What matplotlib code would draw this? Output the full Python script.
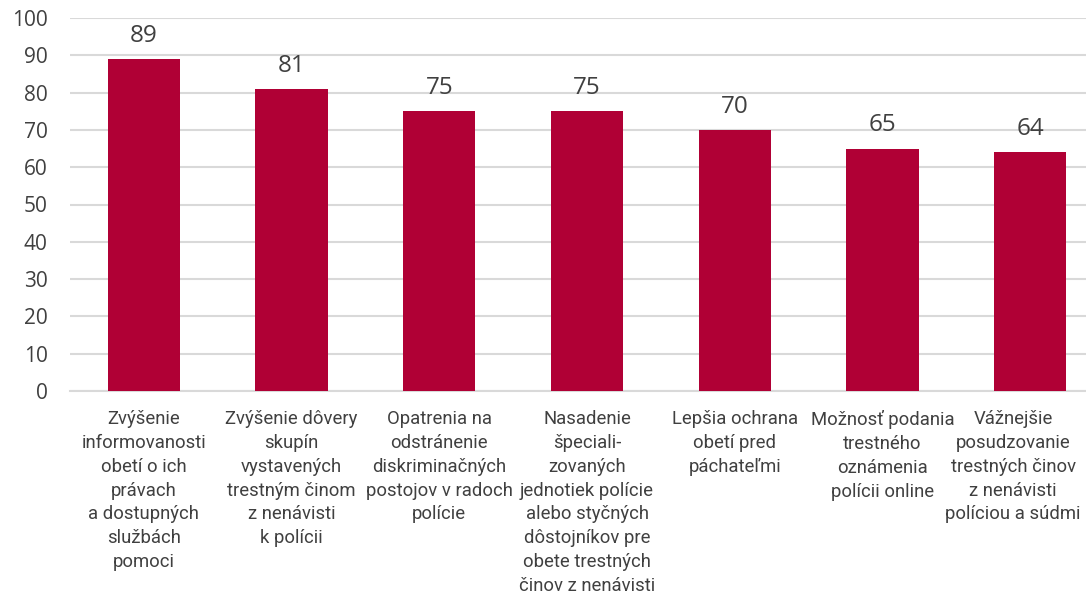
import matplotlib.pyplot as plt
import matplotlib.transforms as mtransforms

# data
categories = [
    'Zvýšenie\ninformovanosti\nobetí o ich\nprávach\na dostupných\nslužbách\npomoci',
    'Zvýšenie dôvery\nskupín\nvystavených\ntrestným činom\nz nenávisti\nk polícii',
    'Opatrenia na\nodstránenie\ndiskriminačných\npostojov v radoch\npolície',
    'Nasadenie\nšpeciali-\nzovaných\njednotiek polície\nalebo styčných\ndôstojníkov pre\nobete trestných\nčinov z nenávisti',
    'Lepšia ochrana\nobetí pred\npáchateľmi',
    'Možnosť podania\ntrestného\noznámenia\npolícii online',
    'Vážnejšie\nposudzovanie\ntrestných činov\nz nenávisti\npolíciou a súdmi',
]
values = [89, 81, 75, 75, 70, 65, 64]
yticks = [0, 10, 20, 30, 40, 50, 60, 70, 80, 90, 100]

bar_color = '#B00035'
text_color = '#404040'
grid_color = '#D9D9D9'

fig = plt.figure(figsize=(10.86, 5.96), dpi=100)
ax = fig.add_axes([70 / 1086, 205 / 596, 1034 / 1086, 373 / 596])

x = list(range(len(values)))
ax.bar(x, values, width=0.49, color=bar_color, zorder=3)

for xi, v in zip(x, values):
    ax.annotate(str(v), (xi, v), xytext=(0, 8), textcoords='offset points',
                ha='center', va='bottom', fontsize=17.5, color=text_color,
                family=['Open Sans', 'DejaVu Sans'])

ax.set_xlim(-0.5, len(values) - 0.5)
ax.set_ylim(0, 100)
ax.set_yticks(yticks)
ax.set_yticklabels([str(t) for t in yticks], fontsize=15, color=text_color,
                   family=['Open Sans', 'DejaVu Sans'])
ax.yaxis.grid(True, color=grid_color, linewidth=1.5, zorder=0)
ax.set_axisbelow(True)

ax.set_xticks(x)
ax.set_xticklabels(categories, fontsize=13.3, color=text_color,
                   family=['Roboto', 'DejaVu Sans'], linespacing=1.41, va='top')
ax.tick_params(axis='x', length=0, pad=14)
ax.tick_params(axis='y', length=0, pad=16)

# last label pushed left so it stays inside the picture
last = ax.get_xticklabels()[-1]
last.set_transform(last.get_transform() + mtransforms.ScaledTranslation(-0.17, 0, fig.dpi_scale_trans))

for s in ['top', 'right', 'left']:
    ax.spines[s].set_visible(False)
ax.spines['bottom'].set_color(grid_color)
ax.spines['bottom'].set_linewidth(1.5)

fig.savefig('out.png', dpi=100)
